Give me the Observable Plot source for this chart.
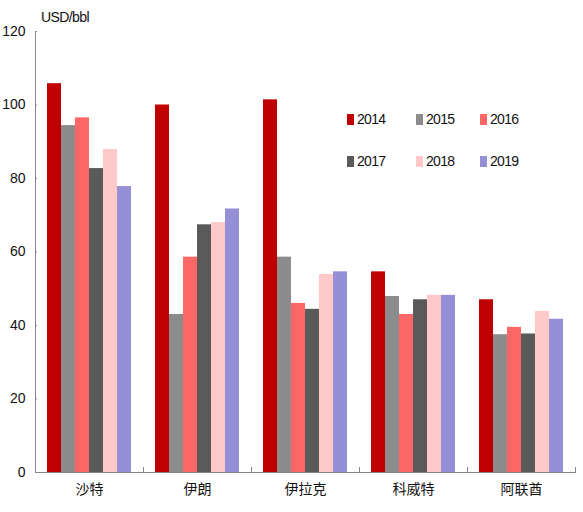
<!DOCTYPE html>
<html>
<head>
<meta charset="utf-8">
<script src="https://cdn.jsdelivr.net/npm/d3@7"></script>
<script src="https://cdn.jsdelivr.net/npm/@observablehq/plot@0.6"></script>
<style>
  body { margin: 0; background: #fff; }
  #chart { position: relative; width: 583px; height: 512px; }
  .unit { position: absolute; left: 41px; top: 9px; font: 14px "Liberation Sans", Arial, sans-serif; letter-spacing: -0.6px; color: #111; }
  .legend { position: absolute; left: 347px; top: 111px; display: grid; grid-template-columns: 69px 64px 60px; row-gap: 26px;
            font: 14px "Liberation Sans", Arial, sans-serif; letter-spacing: -0.7px; color: #111; }
  .legend span { display: flex; align-items: center; }
  .legend i { display: inline-block; width: 7px; height: 11px; margin-right: 3px; }
</style>
</head>
<body>
<div id="chart"></div>
<script>
const countries = ["沙特", "伊朗", "伊拉克", "科威特", "阿联酋"];
const years = ["2014", "2015", "2016", "2017", "2018", "2019"];
const colors = ["#c00000", "#8c8c8c", "#ff6666", "#5a5a5a", "#ffc8c9", "#948fd7"];

// USD/bbl by year, in country order
const p2014 = [105.8, 100.0, 101.4, 54.6, 47.0];
const p2015 = [94.4, 43.0, 58.6, 47.9, 37.5];
const p2016 = [96.5, 58.6, 46.0, 43.0, 39.5];
const p2017 = [82.7, 67.4, 44.4, 47.0, 37.7];
const p2018 = [87.9, 68.0, 53.9, 48.2, 43.8];
const p2019 = [77.8, 71.7, 54.6, 48.2, 41.7];
const yTicks = [0, 20, 40, 60, 80, 100, 120];

const series = [p2014, p2015, p2016, p2017, p2018, p2019];
const rows = years.flatMap((year, i) =>
  countries.map((country, j) => ({ country, year, value: series[i][j] }))
);

const W = 583, H = 512;
const mTop = 31, mBottom = 40, mLeft = 35, mRight = 8;
const frameH = H - mTop - mBottom;
const numFont = '"Liberation Sans", Arial, sans-serif';
const cjkFont = '"Noto Sans CJK SC", sans-serif';

const chart = Plot.plot({
  width: W,
  height: H,
  marginTop: mTop,
  marginBottom: mBottom,
  marginLeft: mLeft,
  marginRight: mRight,
  style: { background: "#fff", color: "#111" },
  fx: { domain: countries, padding: 0, label: null },
  x: { domain: years, paddingInner: 0, paddingOuter: 0.72, axis: null },
  y: { domain: [0, 120], label: null },
  color: { domain: years, range: colors },
  marks: [
    Plot.barY(rows, { fx: "country", x: "year", y: "value", fill: "year" }),
    Plot.ruleY([0], { stroke: "#888" }),
    // y axis line, only on the first group
    Plot.frame({ anchor: "left", stroke: "#888", fx: () => countries[0] }),
    // short upward ticks at the group boundaries
    Plot.frame({ anchor: "left", stroke: "#888", insetTop: frameH - 5 }),
    Plot.frame({ anchor: "right", stroke: "#888", insetTop: frameH - 5 }),
    Plot.axisY({
      ticks: yTicks,
      tickSize: 2,
      dx: 2,
      tickPadding: 10,
      stroke: "#888",
      fill: "#111",
      fontSize: 14,
      fontFamily: numFont,
      label: null
    }),
    Plot.axisFx({
      anchor: "bottom",
      tickSize: 0,
      tickPadding: 12,
      fontSize: 14,
      fontFamily: cjkFont,
      fill: "#111",
      label: null
    })
  ]
});

const root = document.getElementById("chart");
root.append(chart);

const unit = document.createElement("div");
unit.className = "unit";
unit.textContent = "USD/bbl";
root.append(unit);

const legend = document.createElement("div");
legend.className = "legend";
years.forEach((y, i) => {
  const item = document.createElement("span");
  item.innerHTML = `<i style="background:${colors[i]}"></i>${y}`;
  legend.append(item);
});
root.append(legend);
</script>
</body>
</html>
